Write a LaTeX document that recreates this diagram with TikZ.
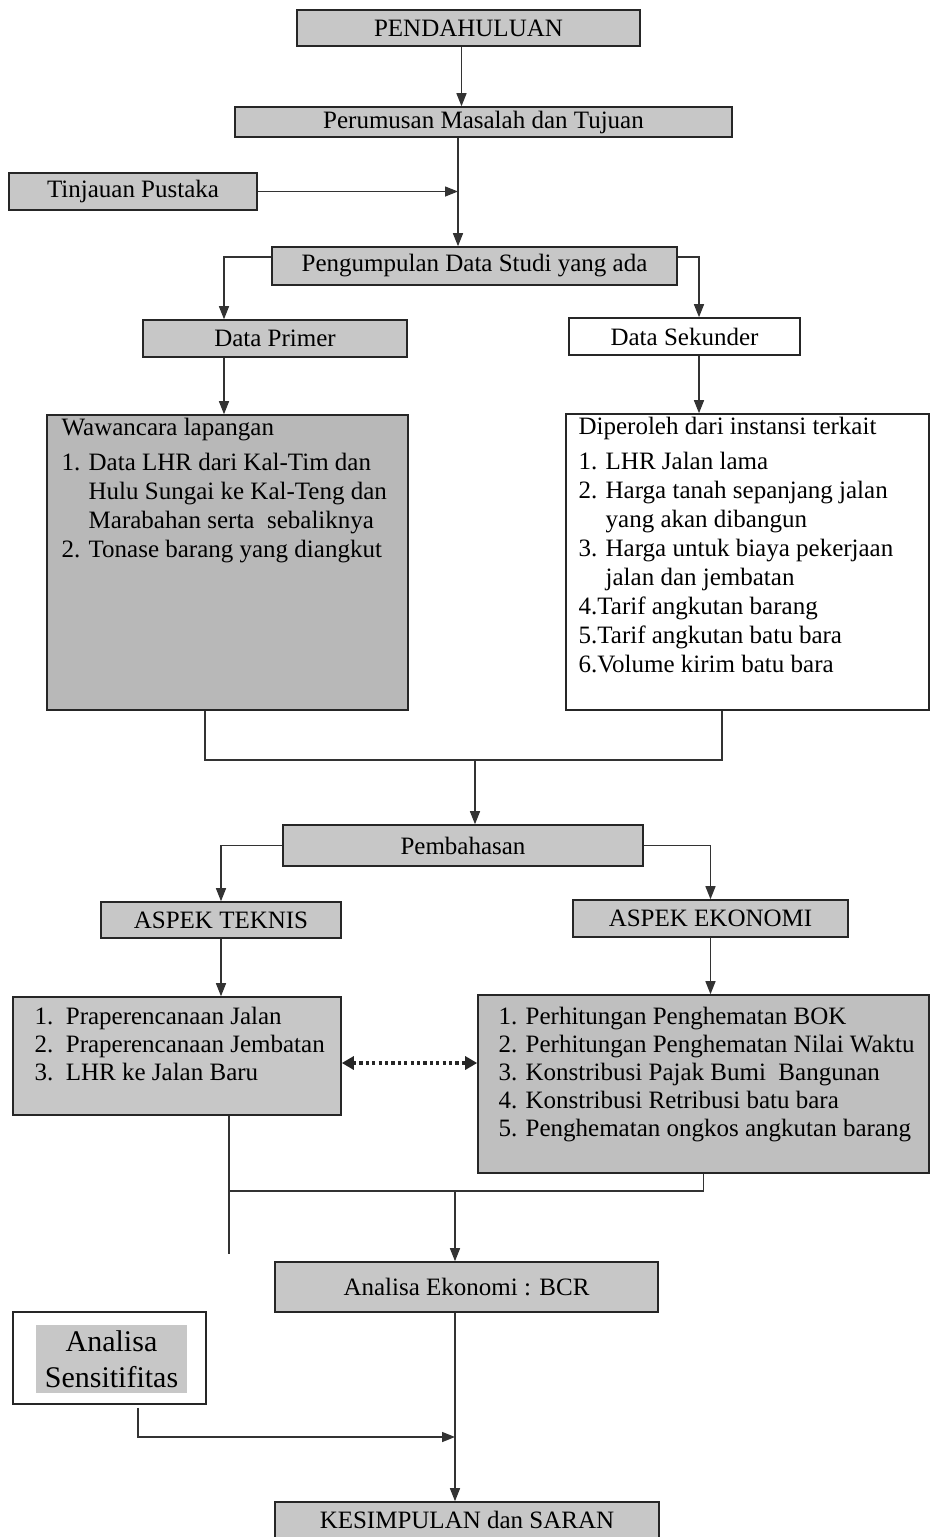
\documentclass[tikz,border=0pt]{standalone}
\usepackage{fontspec}
\setmainfont{Liberation Serif}
\usetikzlibrary{arrows.meta}

\begin{document}
\begin{tikzpicture}[x=0.5pt,y=-0.5pt,
  box/.style={draw=black!85,line width=0.8pt,fill=black!22,inner sep=0pt,font=\fontsize{12.5}{14.5}\selectfont},
  wbox/.style={box,fill=white},
  ln/.style={draw=black!80,line width=0.7pt},
  arr/.style={ln,-{Triangle[length=6.5pt,width=5pt]}},
  dotarr/.style={draw=black!85,line width=1.6pt,dash pattern=on 1.6pt off 1.6pt,
    {Triangle[length=6pt,width=6.5pt]}-{Triangle[length=6pt,width=6.5pt]}},
  list/.style={anchor=north west,align=left,inner sep=0pt,font=\fontsize{12.5}{14.5}\selectfont}]
  \useasboundingbox (0,0) rectangle (931,1537);
  \node[box,minimum width=171.5pt,minimum height=18pt] (pend) at (468.5,28) {PENDAHULUAN};
  \node[box,minimum width=248.5pt,minimum height=15pt] (perum) at (483.5,122) {Perumusan Masalah dan Tujuan};
  \node[box,minimum width=124pt,minimum height=18.5pt] (tinjauan) at (133,191.5) {Tinjauan Pustaka};
  \node[box,minimum width=202.5pt,minimum height=19pt] (pengum) at (474.5,266) {Pengumpulan Data Studi yang ada};
  \node[box,minimum width=132pt,minimum height=18.5pt] (primer) at (275,338.5) {Data Primer};
  \node[wbox,minimum width=115.5pt,minimum height=18.5pt] (sekunder) at (684.5,336.5) {Data Sekunder};
  \node[box,fill=black!28,minimum width=180.5pt,minimum height=147.5pt] (wawancara) at (227.5,562.5) {};
  \node[wbox,minimum width=181.5pt,minimum height=148pt] (diperoleh) at (747.5,562) {};
  \node[list] (wawancaratext) at ([xshift=7.5pt,yshift=-2pt]wawancara.north west)
    {Wawancara lapangan\\[3pt]
     1. Data LHR dari Kal-Tim dan\\
     \phantom{1. }Hulu Sungai ke Kal-Teng dan\\
     \phantom{1. }Marabahan serta\ \ sebaliknya\\
     2. Tonase barang yang diangkut};
  \node[list] (diperolehtext) at ([xshift=6.5pt,yshift=-2pt]diperoleh.north west)
    {Diperoleh dari instansi terkait\\[3pt]
     1. LHR Jalan lama\\
     2. Harga tanah sepanjang jalan\\
     \phantom{2. }yang akan dibangun\\
     3. Harga untuk biaya pekerjaan\\
     \phantom{3. }jalan dan jembatan\\
     4.Tarif angkutan barang\\
     5.Tarif angkutan batu bara\\
     6.Volume kirim batu bara};
  \node[box,minimum width=180pt,minimum height=20.5pt] (pembahasan) at (463,845.5) {Pembahasan};
  \node[box,minimum width=120pt,minimum height=18pt] (teknis) at (221,920) {ASPEK TEKNIS};
  \node[box,minimum width=137.5pt,minimum height=18.5pt] (ekonomi) at (710.5,918.5) {ASPEK EKONOMI};
  \node[box,minimum width=164pt,minimum height=59pt] (teknislist) at (177,1056) {};
  \node[box,fill=black!25,minimum width=225.5pt,minimum height=89pt] (ekonomilist) at (703.5,1084) {};
  \node[list,font=\fontsize{12.5}{14}\selectfont] (teknistext) at ([xshift=11pt,yshift=-5.5pt]teknislist.north west)
    {1.\ \ Praperencanaan Jalan\\
     2.\ \ Praperencanaan Jembatan\\
     3.\ \ LHR ke Jalan Baru};
  \node[list,font=\fontsize{12.5}{14}\selectfont] (ekonomitext) at ([xshift=10.5pt,yshift=-6.5pt]ekonomilist.north west)
    {1. Perhitungan Penghematan BOK\\
     2. Perhitungan Penghematan Nilai Waktu\\
     3. Konstribusi Pajak Bumi\ \ Bangunan\\
     4. Konstribusi Retribusi batu bara\\
     5. Penghematan ongkos angkutan barang};
  \node[box,minimum width=191.5pt,minimum height=25pt] (bcr) at (466.5,1287) {Analisa Ekonomi : BCR};
  \node[wbox,minimum width=96.5pt,minimum height=46pt] (sensitif) at (109.5,1358) {};
  \node[box,draw=none,align=center,minimum width=75.5pt,minimum height=34pt,
    font=\fontsize{15}{18}\selectfont] (sensitiftext) at (111.5,1359) {Analisa\\Sensitifitas};
  \node[box,minimum width=192pt,minimum height=18pt] (kesimpulan) at (467,1520) {KESIMPULAN dan SARAN};

  \coordinate (pendout) at ([xshift=-3.5pt]pend.south);
  \draw[arr] (pendout) -- (pendout |- perum.north);
  \coordinate (perumout) at ([xshift=-12.75pt]perum.south);
  \draw[arr] (perumout) -- (perumout |- pengum.north);
  \draw[arr] (tinjauan.east) -- (tinjauan.east -| perumout);
  \coordinate (pengumleft) at ([yshift=4.5pt]pengum.west);
  \coordinate (pengumright) at ([yshift=4.5pt]pengum.east);
  \coordinate (primerin) at ([xshift=-25.5pt]primer.north);
  \coordinate (sekunderin) at ([xshift=7.25pt]sekunder.north);
  \draw[arr] (pengumleft) -| (primerin);
  \draw[arr] (pengumright) -| (sekunderin);
  \draw[arr] (primerin |- primer.south) -- (primerin |- wawancara.north);
  \draw[arr] (sekunderin |- sekunder.south) -- (sekunderin |- diperoleh.north);
  \coordinate (mergeA) at (475,760);
  \coordinate (wawout) at ([xshift=-11.25pt]wawancara.south);
  \coordinate (dipout) at ([xshift=-12.75pt]diperoleh.south);
  \draw[ln] (wawout) |- (mergeA) -| (dipout);
  \draw[arr] (mergeA) -- (mergeA |- pembahasan.north);
  \draw[arr] (pembahasan.west) -| (teknis.north);
  \draw[arr] (pembahasan.east) -| (ekonomi.north);
  \draw[arr] (teknis.south) -- (teknis.south |- teknislist.north);
  \draw[arr] (ekonomi.south) -- (ekonomi.south |- ekonomilist.north);
  \coordinate (dotleft) at ([yshift=-3.5pt]teknislist.east);
  \draw[dotarr] (dotleft) -- (dotleft -| ekonomilist.west);
  \coordinate (mergeB) at (455,1191);
  \coordinate (tekout) at ([xshift=26pt]teknislist.south);
  \draw[ln] (tekout) -- ++(0,138);
  \draw[ln] (tekout |- mergeB) -| (ekonomilist.south);
  \draw[arr] (mergeB) -- (mergeB |- bcr.north);
  \draw[arr] (mergeB |- bcr.south) -- (mergeB |- kesimpulan.north);
  \coordinate (sensout) at ([xshift=14.25pt,yshift=-1.5pt]sensitif.south);
  \coordinate (mergeC) at (455,1437);
  \draw[arr] (sensout) |- (mergeC);
\end{tikzpicture}
\end{document}
